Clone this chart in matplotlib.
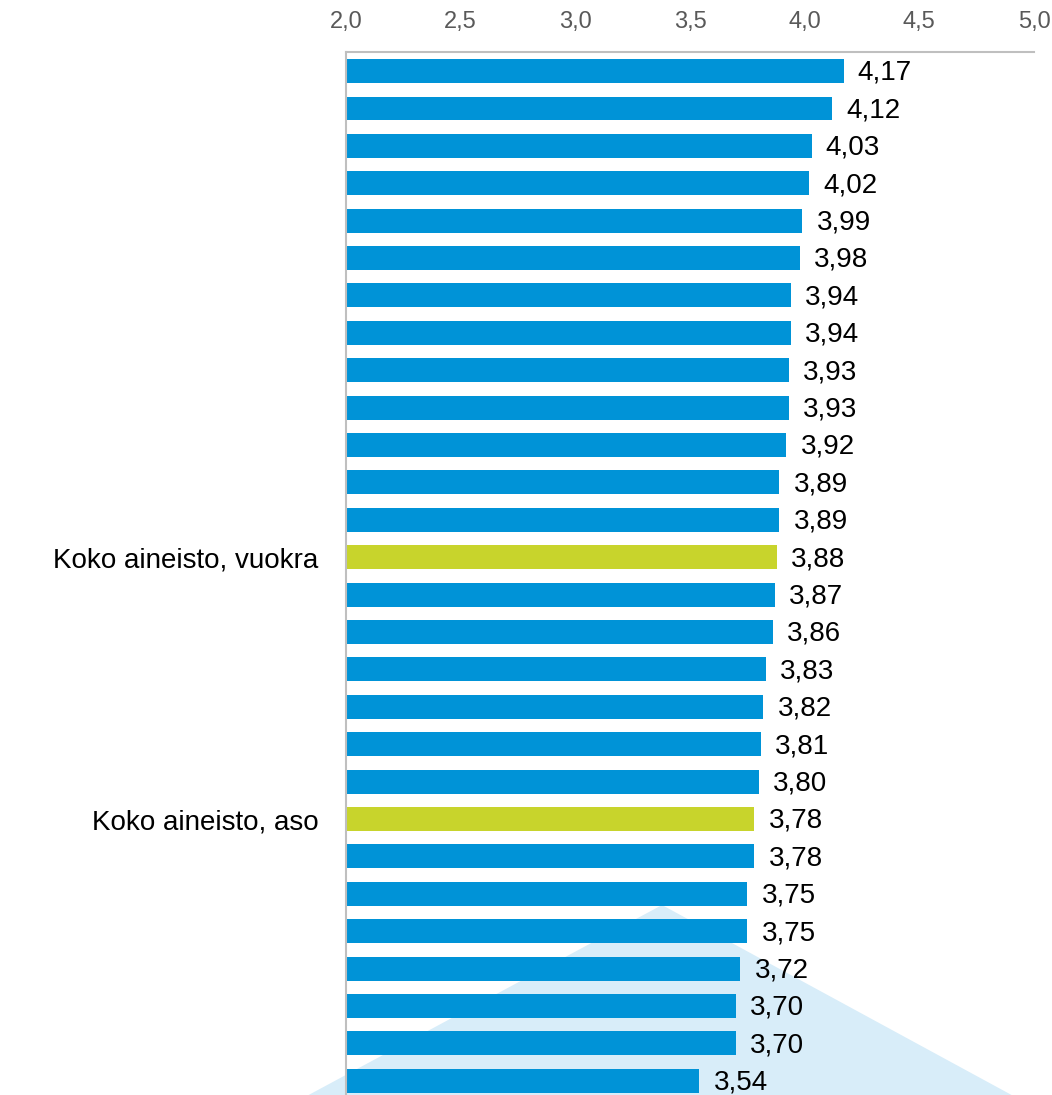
import numpy as np
import matplotlib
matplotlib.use('Agg')
import matplotlib.pyplot as plt
from matplotlib.patches import Polygon

plt.rcParams['font.family'] = ['Liberation Sans', 'DejaVu Sans']

## Data
values = [4.17, 4.12, 4.03, 4.02, 3.99, 3.98, 3.94, 3.94, 3.93, 3.93,
          3.92, 3.89, 3.89, 3.88, 3.87, 3.86, 3.83, 3.82, 3.81, 3.80,
          3.78, 3.78, 3.75, 3.75, 3.72, 3.70, 3.70, 3.54]
labels = [''] * len(values)
labels[13] = 'Koko aineisto, vuokra'
labels[20] = 'Koko aineisto, aso'
highlight = [13, 20]
xticks = [2.0, 2.5, 3.0, 3.5, 4.0, 4.5, 5.0]

## Style
blue = '#0093d7'
green = '#c8d42c'
W, H = 1052, 1095

fig = plt.figure(figsize=(W / 100, H / 100), dpi=100)

# background triangle decoration (figure pixel coords)
tri = np.array([[662, 905], [290, 1105], [1030, 1105]], dtype=float)
tri[:, 0] /= W
tri[:, 1] = 1 - tri[:, 1] / H
fig.patches.append(Polygon(tri, closed=True, transform=fig.transFigure,
                           facecolor='#d8edf9', edgecolor='none', zorder=0))

ax = fig.add_axes([346 / W, 0.0, (1034 - 346) / W, 1 - 52 / H])
ax.set_zorder(1)
ax.patch.set_alpha(0)

y = np.arange(len(values))
colors = [green if i in highlight else blue for i in range(len(values))]
ax.barh(y, np.array(values) - 2.0, left=2.0, height=0.64, color=colors,
        edgecolor='none', zorder=2)

for yi, v in zip(y, values):
    ax.text(v + 0.062, yi + 0.05, ('%.2f' % v).replace('.', ','), va='center',
            ha='left', fontsize=20, color='black', zorder=3)

ax.set_xlim(2.0, 5.0)
ax.set_ylim(27.38, -0.51)
ax.xaxis.tick_top()
ax.set_xticks(xticks)
ax.set_xticklabels([('%.1f' % t).replace('.', ',') for t in xticks],
                   fontsize=17, color='#595959')
ax.set_yticks(y)
ax.set_yticklabels(labels, fontsize=20)
ax.tick_params(axis='x', length=0, pad=14)
ax.tick_params(axis='y', length=0, pad=20)

for s in ['bottom', 'right']:
    ax.spines[s].set_visible(False)
for s in ['top', 'left']:
    ax.spines[s].set_color('#bfbfbf')
    ax.spines[s].set_linewidth(1.5)

fig.savefig('out.png', dpi=100)
